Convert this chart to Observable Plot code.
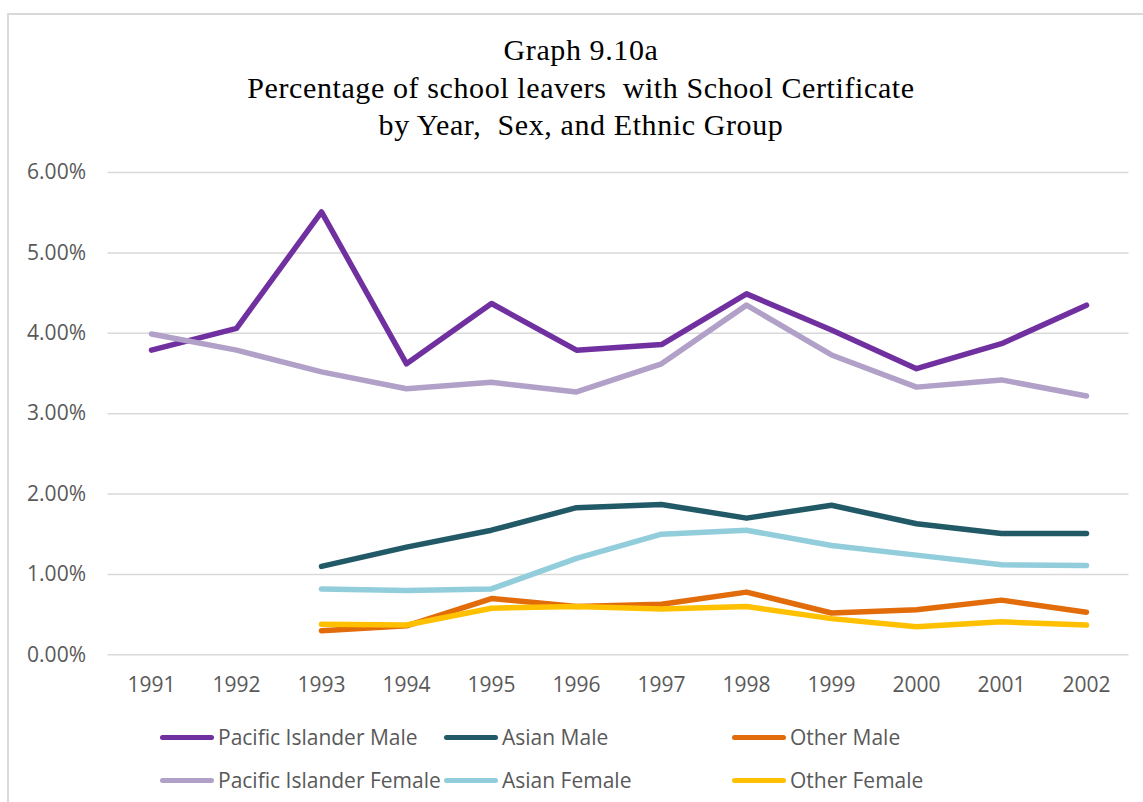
<!DOCTYPE html>
<html><head><meta charset="utf-8">
<script src="https://cdn.jsdelivr.net/npm/d3@7"></script>
<script src="https://cdn.jsdelivr.net/npm/@observablehq/plot@0.6"></script>
<style>
html,body{margin:0;padding:0;background:#fff;overflow:hidden;width:1143px;height:802px;position:relative;}
#frame{position:absolute;left:7px;top:13px;width:1200px;height:900px;border:2px solid #d9d9d9;box-sizing:border-box;}
#title{position:absolute;left:0;top:31px;width:1162px;text-align:center;font-family:"Liberation Serif","Times New Roman",serif;font-size:30px;letter-spacing:0.6px;line-height:37.5px;color:#000;}
#chart{position:absolute;left:0;top:150px;}
#legend{position:absolute;left:0;top:0;font-family:"Open Sans",sans-serif;font-size:21px;color:#595959;}
.item{position:absolute;display:flex;align-items:center;white-space:nowrap;height:26px;line-height:26px;}
.sw{display:inline-block;width:54px;height:5px;border-radius:3px;margin-right:4px;}
</style></head><body>
<div id="frame"></div>
<div id="title">Graph 9.10a<br>Percentage of school leavers&nbsp; with School Certificate<br>by Year,&nbsp; Sex, and Ethnic Group</div>
<div id="chart"></div>
<div id="legend"></div>
<script>
const years = [1991,1992,1993,1994,1995,1996,1997,1998,1999,2000,2001,2002];
const seriesNames = ["Pacific Islander Male","Asian Male","Other Male","Pacific Islander Female","Asian Female","Other Female"];
const seriesColors = ["#7030A0","#215967","#E26B0A","#B1A0C7","#92CDDC","#FFC000"];
const piMale     = [3.79,4.06,5.51,3.62,4.37,3.79,3.86,4.49,4.04,3.56,3.87,4.35];
const asianMale  = [null,null,1.10,1.34,1.55,1.83,1.87,1.70,1.86,1.63,1.51,1.51];
const otherMale  = [null,null,0.30,0.36,0.70,0.60,0.63,0.78,0.52,0.56,0.68,0.53];
const piFemale   = [3.99,3.79,3.52,3.31,3.39,3.27,3.62,4.35,3.73,3.33,3.42,3.22];
const asianFemale= [null,null,0.82,0.80,0.82,1.20,1.50,1.55,1.36,1.24,1.12,1.11];
const otherFemale= [null,null,0.38,0.37,0.58,0.60,0.57,0.60,0.45,0.35,0.41,0.37];
const yTicks = [0,1,2,3,4,5,6];

const seriesValues = [piMale, asianMale, otherMale, piFemale, asianFemale, otherFemale];
const rows = [];
seriesNames.forEach((name, i) => {
  years.forEach((yr, j) => {
    const v = seriesValues[i][j];
    if (v != null) rows.push({series: name, year: yr, value: v});
  });
});

const drawOrder = ["Pacific Islander Male","Pacific Islander Female","Asian Male","Asian Female","Other Male","Other Female"];

const chart = Plot.plot({
  width: 1143,
  height: 560,
  marginLeft: 107.5,
  marginRight: 14.5,
  marginTop: 22,
  marginBottom: 55.7,
  style: {fontFamily: "'Open Sans', sans-serif", fontSize: "21px", color: "#595959", background: "transparent", overflow: "visible"},
  x: {type: "point", domain: years, padding: 0.5},
  y: {domain: [0, 6]},
  color: {domain: seriesNames, range: seriesColors},
  marks: [
    Plot.ruleY(yTicks, {stroke: "#d9d9d9", strokeWidth: 1.5}),
    Plot.axisY({ticks: yTicks, tickSize: 0, tickPadding: 22, tickFormat: d => d.toFixed(2) + "%", label: null, fill: "#595959"}),
    Plot.axisX({tickSize: 0, tickPadding: 22, tickFormat: d => String(d), label: null, fill: "#595959"}),
    ...drawOrder.map(name => Plot.line(rows.filter(r => r.series === name), {
      x: "year", y: "value", stroke: d => d.series, strokeWidth: 5.5,
      strokeLinecap: "round", strokeLinejoin: "round"
    }))
  ]
});
document.getElementById("chart").appendChild(chart);

const legend = document.getElementById("legend");
const colX = [160, 444, 732];
const rowY = [724, 767];
seriesNames.forEach((name, i) => {
  const it = document.createElement("div");
  it.className = "item";
  it.style.left = colX[i % 3] + "px";
  it.style.top = rowY[Math.floor(i / 3)] + "px";
  const sw = document.createElement("span");
  sw.className = "sw";
  sw.style.background = seriesColors[i];
  it.appendChild(sw);
  it.appendChild(document.createTextNode(name));
  legend.appendChild(it);
});
</script>
</body></html>
